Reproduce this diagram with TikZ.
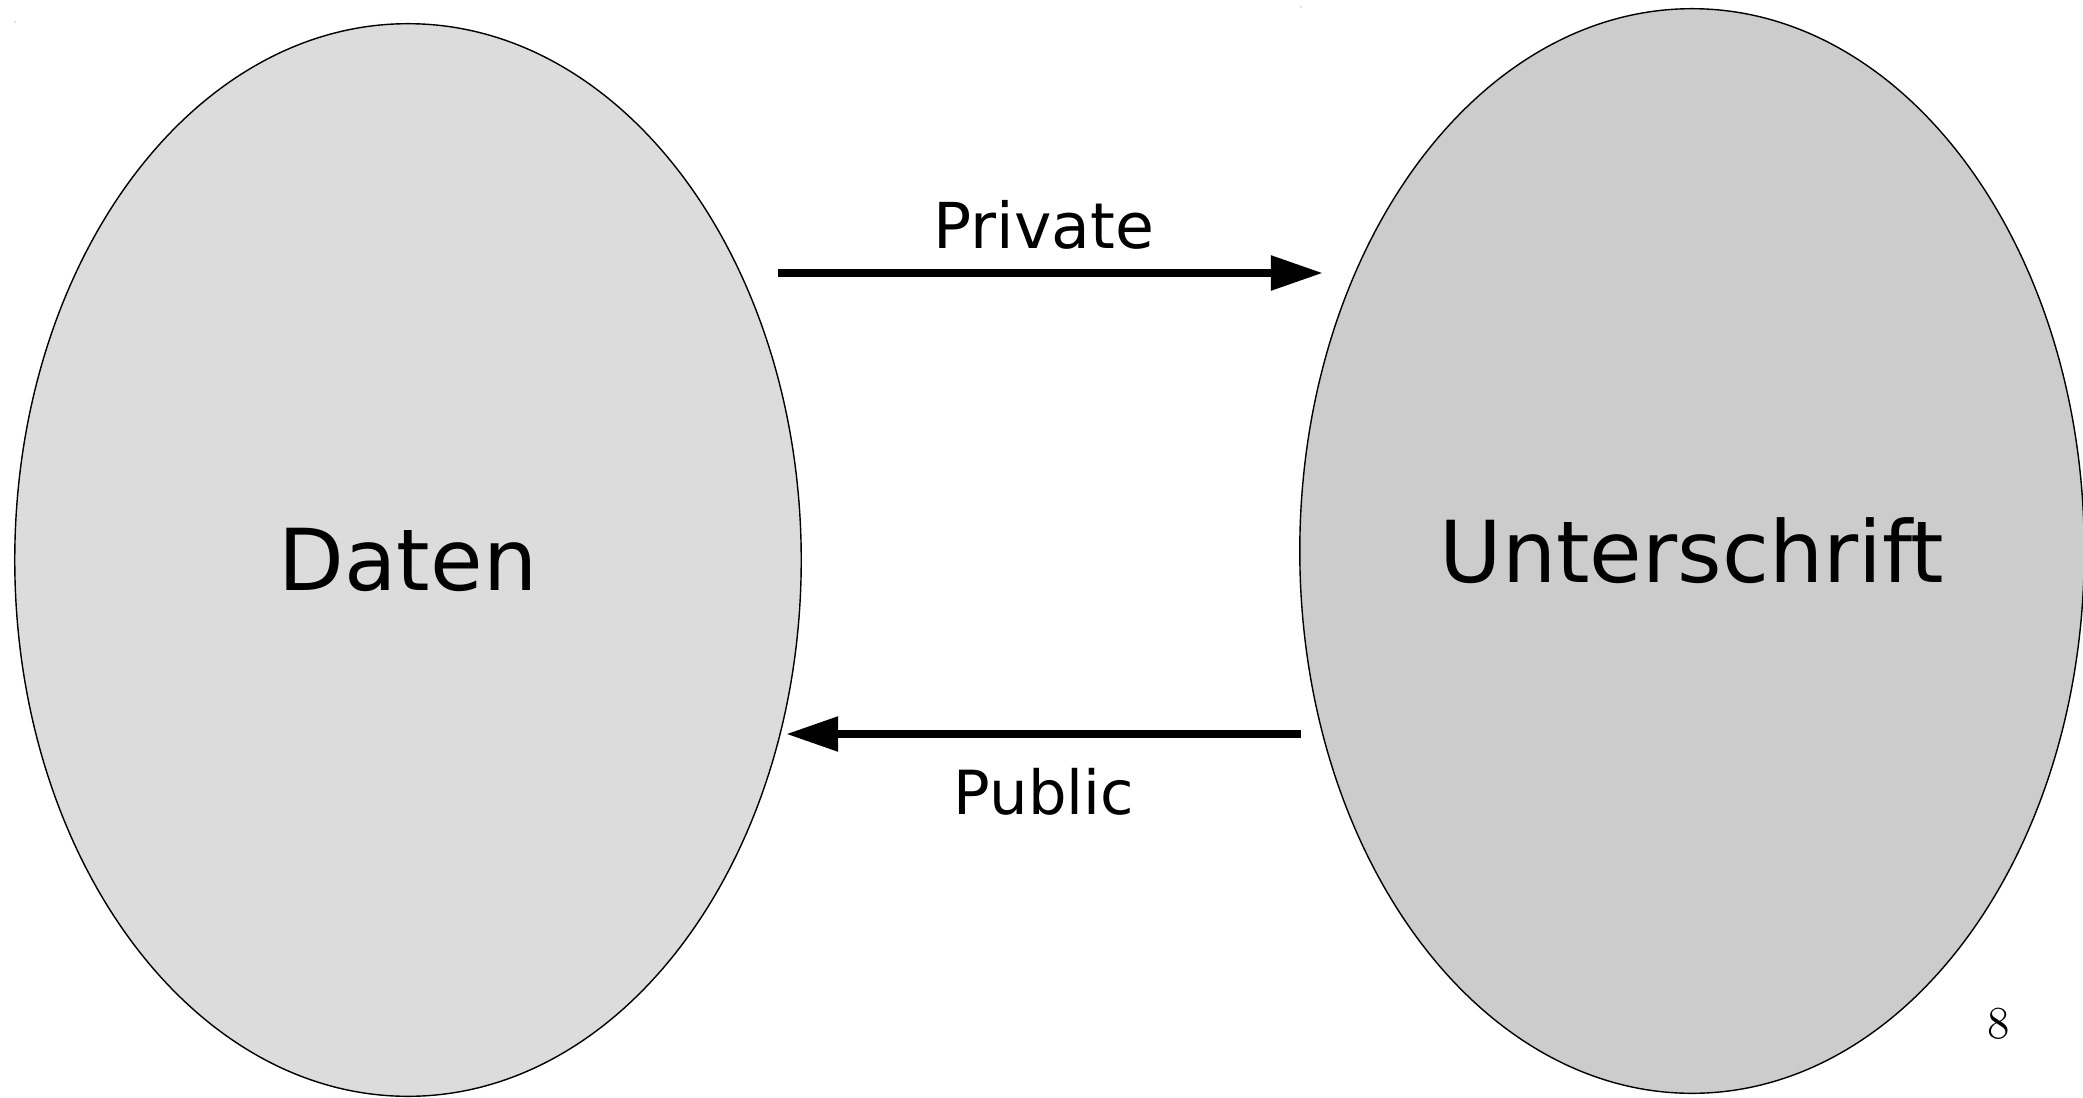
\documentclass[tikz,border=0pt]{standalone}
\usepackage{fontspec}
\newfontfamily\labelsans{DejaVu Sans}
\usetikzlibrary{shapes.geometric,arrows.meta}
\definecolor{datenfill}{RGB}{220,220,220}
\definecolor{sigfill}{RGB}{204,204,204}
\tikzset{
	blob/.style={ellipse, draw=black, line width=0.4pt, inner sep=0pt, font=\labelsans\fontsize{24.3}{29}\selectfont},
	keyarrow/.style={line width=2.36pt, -{Triangle[length=0.52cm,width=0.33cm]}},
	keylabel/.style={anchor=base, font=\labelsans\fontsize{18}{22}\selectfont}
}
\begin{document}
\begin{tikzpicture}[x=0.01cm, y=-0.01cm]
			\useasboundingbox (0,0) rectangle (2083,1097);
			\node[blob, fill=datenfill, minimum width=7.86cm, minimum height=10.72cm] (daten) at (408,560) {Daten};
			\node[blob, fill=sigfill, minimum width=7.84cm, minimum height=10.84cm] (sig) at (1692,551) {Unterschrift};
			\path
			(778,273)coordinate(privA)
			(1323,273)coordinate(privB)
			(1301,734)coordinate(pubA)
			(786,734)coordinate(pubB)
			;
			\draw[keyarrow] (privA)--(privB);
			\draw[keyarrow] (pubA)--(pubB);
			\node[keylabel] (privlbl) at (1044,248) {Private};
			\node[keylabel, font=\labelsans\fontsize{17.3}{21}\selectfont] (publbl) at (1044,814) {Public};
			\node[font=\fontsize{13}{15}\selectfont] (pagenum) at (1999,1024) {8};
			\foreach \p in {(15,22), (1301,7)}{
				\fill[gray] \p circle (0.7);}
\end{tikzpicture}
\end{document}
